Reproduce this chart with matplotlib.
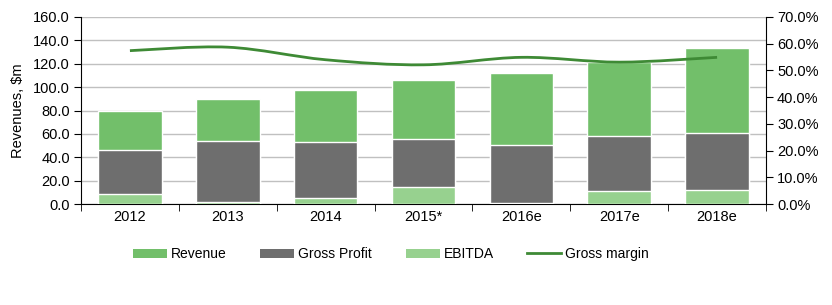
import matplotlib.pyplot as plt
import numpy as np
from matplotlib.path import Path
from matplotlib.patches import PathPatch, Patch
from matplotlib.lines import Line2D
from matplotlib.ticker import FuncFormatter, MultipleLocator

plt.rcParams["font.family"] = ["Liberation Sans", "DejaVu Sans"]
plt.rcParams["font.size"] = 10

years = ["2012", "2013", "2014", "2015*", "2016e", "2017e", "2018e"]
revenue = [80.0, 90.1, 97.8, 106.1, 112.4, 121.8, 133.8]
gross_profit = [45.9, 53.6, 52.8, 55.3, 50.2, 57.9, 60.5]
ebitda = [8.3, 1.7, 5.4, 14.8, 1.1, 10.9, 11.7]
gross_margin = [57.4, 58.7, 54.0, 52.1, 54.9, 53.1, 54.9]

C_REV = "#72bf6a"
C_GP = "#6e6e6e"
C_EB = "#97d18f"
C_LINE = "#3e8a35"


def smooth_path(xs, ys, t=1 / 6):
    # Excel-style smoothed line: Catmull-Rom segments as cubic beziers
    pts = np.column_stack([xs, ys]).astype(float)
    verts = [pts[0]]
    codes = [Path.MOVETO]
    n = len(pts)
    for i in range(n - 1):
        p0 = pts[max(i - 1, 0)]
        p1 = pts[i]
        p2 = pts[i + 1]
        p3 = pts[min(i + 2, n - 1)]
        c1 = p1 + (p2 - p0) * t
        c2 = p2 - (p3 - p1) * t
        verts += [c1, c2, p2]
        codes += [Path.CURVE4] * 3
    return Path(verts, codes)


fig = plt.figure(figsize=(8.32, 3.05), dpi=100)
ax = fig.add_axes([81 / 832, 1 - 204 / 305, 685 / 832, 187 / 305])
x = np.arange(len(years))
w = 0.65

ax.bar(x, revenue, w, color=C_REV, edgecolor="white", linewidth=1, zorder=2)
ax.bar(x, gross_profit, w, color=C_GP, edgecolor="white", linewidth=1, zorder=3)
ax.bar(x, ebitda, w, color=C_EB, edgecolor="white", linewidth=1, zorder=4)

ax.set_xlim(-0.5, len(years) - 0.5)
ax.set_ylim(0, 160)
ax.yaxis.set_major_locator(MultipleLocator(20))
ax.yaxis.set_major_formatter(FuncFormatter(lambda v, p: f"{v:.1f}"))
ax.set_ylabel("Revenues, $m", fontsize=10.5, labelpad=6)
ax.grid(axis="y", color="#c0c0c0", linewidth=1, zorder=0)
ax.set_axisbelow(True)

ax.set_xticks(x)
ax.set_xticklabels(years)
ax.tick_params(axis="x", length=0, pad=4, labelsize=10.5)
ax.set_xticks(np.arange(-0.5, len(years)), minor=True)
ax.tick_params(axis="x", which="minor", length=5, direction="out", color="black")
ax.tick_params(axis="y", length=5, direction="out", pad=3, labelsize=10.5)

for s in ["top", "right"]:
    ax.spines[s].set_visible(False)
ax.spines["left"].set_color("black")
ax.spines["bottom"].set_color("black")

ax2 = ax.twinx()
ax2.set_ylim(0, 70)
ax2.yaxis.set_major_locator(MultipleLocator(10))
ax2.yaxis.set_major_formatter(FuncFormatter(lambda v, p: f"{v:.1f}%"))
ax2.tick_params(axis="y", length=5, direction="out", pad=3, labelsize=10.5)
for s in ["top", "left", "bottom"]:
    ax2.spines[s].set_visible(False)
ax2.spines["right"].set_color("black")
ax2.add_patch(PathPatch(smooth_path(x, gross_margin), facecolor="none",
                        edgecolor=C_LINE, linewidth=2, zorder=5))

handles = [
    Patch(facecolor=C_REV, label="Revenue"),
    Patch(facecolor=C_GP, label="Gross Profit"),
    Patch(facecolor=C_EB, label="EBITDA"),
    Line2D([0], [0], color=C_LINE, linewidth=2, label="Gross margin"),
]
fig.legend(handles=handles, loc="center", bbox_to_anchor=(0.47, 1 - 254 / 305),
           ncol=4, frameon=False, fontsize=10, handlelength=2.45,
           handleheight=0.6, handletextpad=0.3, columnspacing=2.4)

fig.savefig("out.png", dpi=100)
